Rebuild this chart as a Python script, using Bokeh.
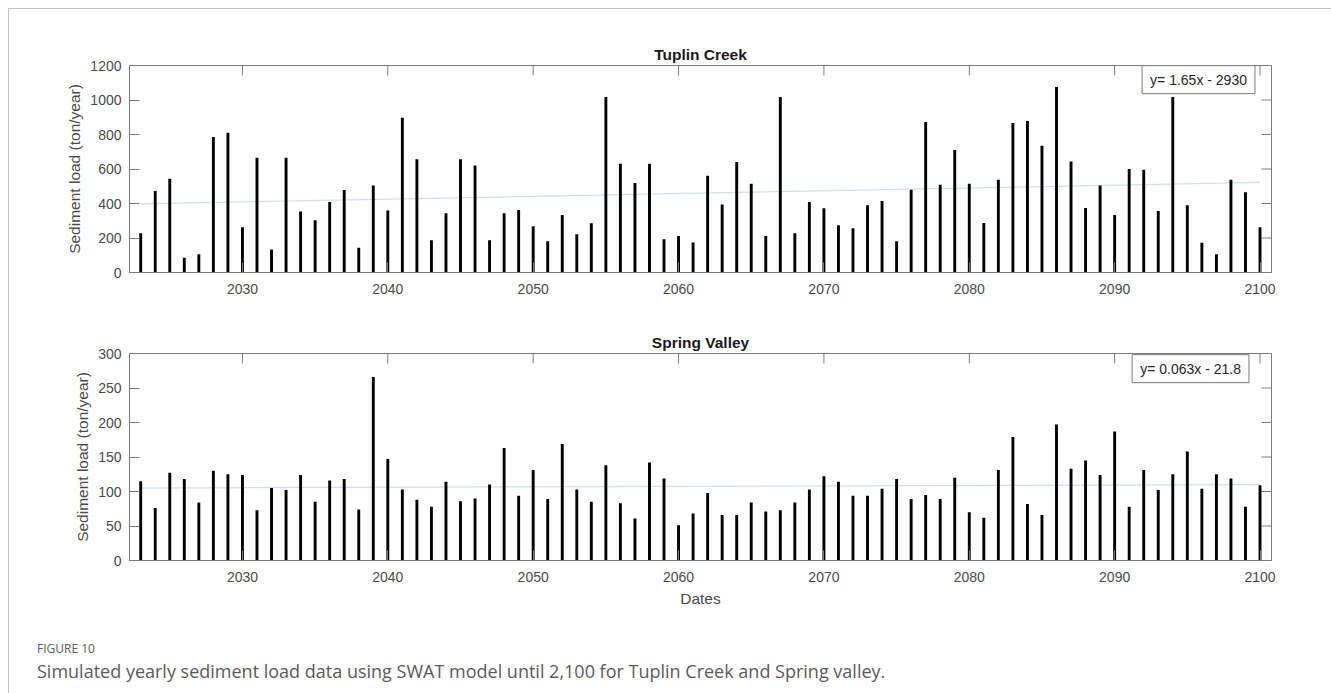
from bokeh.plotting import figure
from bokeh.models import Range1d, FixedTicker, Label, Div, ColumnDataSource
from bokeh.layouts import column
from bokeh.embed import file_html
from bokeh.resources import INLINE

# ---------------- data ----------------
years = list(range(2023, 2101))

tuplin_load = [
    228, 473, 544, 85, 106, 785, 810, 262, 665, 133,
    665, 353, 303, 409, 478, 143, 505, 359, 897, 656,
    187, 343, 656, 621, 187, 343, 363, 268, 181, 334,
    222, 285, 1017, 631, 519, 631, 193, 212, 174, 561,
    394, 640, 515, 212, 1017, 228, 409, 372, 274, 257,
    390, 415, 181, 480, 872, 509, 710, 515, 287, 538,
    866, 878, 735, 1076, 644, 374, 505, 334, 600, 596,
    357, 1017, 390, 172, 106, 538, 465, 262,
]

spring_load = [
    115, 76, 127, 118, 84, 130, 125, 124, 73, 105,
    102, 124, 85, 116, 118, 74, 266, 147, 103, 88,
    78, 114, 86, 90, 110, 163, 94, 131, 89, 169,
    103, 85, 138, 83, 61, 142, 119, 51, 68, 98,
    66, 66, 84, 71, 73, 84, 103, 122, 114, 94,
    94, 104, 118, 89, 95, 89, 120, 70, 62, 131,
    179, 82, 66, 197, 133, 145, 124, 187, 78, 131,
    102, 125, 158, 104, 125, 119, 78, 109,
]

trend_years = [2023, 2100]
tuplin_trend = [398, 522]
spring_trend = [105, 110]

x_ticks = [2030, 2040, 2050, 2060, 2070, 2080, 2090, 2100]
tuplin_yticks = [0, 200, 400, 600, 800, 1000, 1200]
spring_yticks = [0, 50, 100, 150, 200, 250, 300]

tuplin_title = "Tuplin Creek"
spring_title = "Spring Valley"
tuplin_eq = "y= 1.65x - 2930"
spring_eq = "y= 0.063x - 21.8"
y_label = "Sediment load (ton/year)"
x_label = "Dates"
fig_num = "FIGURE 10"
caption = ("Simulated yearly sediment load data using SWAT model until 2,100 "
           "for Tuplin Creek and Spring valley.")

# ---------------- style ----------------
FONT = "Liberation Sans"
AX_COL = "#7a7a7a"
LBL_COL = "#4a4a4a"
TREND_COL = "#cfe0ea"
FRAME_W, FRAME_H = 1142, 207
X0, X1 = 2022.23, 2100.79
TICK_PX = 10


def make_panel(title, loads, trend, yticks, ymax, eq, eq_pos, show_xlabel,
               min_top, min_bottom):
    p = figure(
        title=title,
        frame_width=FRAME_W, frame_height=FRAME_H,
        x_range=Range1d(X0, X1), y_range=Range1d(0, ymax),
        min_border_left=120, min_border_right=60,
        min_border_top=min_top, min_border_bottom=min_bottom,
        toolbar_location=None, output_backend="svg",
        background_fill_color="white", border_fill_color="white",
    )
    p.outline_line_color = AX_COL
    p.outline_line_width = 1
    p.xgrid.visible = False
    p.ygrid.visible = False

    p.title.align = "center"
    p.title.text_font = FONT
    p.title.text_font_size = "15.5px"
    p.title.text_font_style = "bold"
    p.title.text_color = "#1a1a1a"
    p.title.standoff = 5

    p.xaxis.ticker = FixedTicker(ticks=x_ticks)
    p.yaxis.ticker = FixedTicker(ticks=yticks)

    for ax in list(p.xaxis) + list(p.yaxis):
        ax.axis_line_color = AX_COL
        ax.major_tick_line_color = AX_COL
        ax.major_tick_in = TICK_PX
        ax.major_tick_out = 0
        ax.minor_tick_line_color = None
        ax.major_label_text_font = FONT
        ax.major_label_text_font_size = "14px"
        ax.major_label_text_color = LBL_COL
    p.xaxis.major_label_standoff = 11
    p.yaxis.major_label_standoff = 8

    p.yaxis.axis_label = y_label
    p.yaxis.axis_label_text_font = FONT
    p.yaxis.axis_label_text_font_size = "15.5px"
    p.yaxis.axis_label_text_font_style = "normal"
    p.yaxis.axis_label_text_color = LBL_COL
    p.yaxis.axis_label_standoff = 4

    if show_xlabel:
        p.xaxis.axis_label = x_label
        p.xaxis.axis_label_text_font = FONT
        p.xaxis.axis_label_text_font_size = "15.5px"
        p.xaxis.axis_label_text_font_style = "normal"
        p.xaxis.axis_label_text_color = LBL_COL
        p.xaxis.axis_label_standoff = 5

    # mirrored inward ticks on top and right edges of the box
    dy = ymax * TICK_PX / FRAME_H
    dx = (X1 - X0) * TICK_PX / FRAME_W
    n = len(x_ticks)
    p.segment(x0=x_ticks, y0=[ymax] * n, x1=x_ticks, y1=[ymax - dy] * n,
              line_color=AX_COL, line_width=1)
    m = len(yticks)
    p.segment(x0=[X1] * m, y0=yticks, x1=[X1 - dx] * m, y1=yticks,
              line_color=AX_COL, line_width=1)

    p.line(trend_years, trend, line_color=TREND_COL, line_width=1.2)

    src = ColumnDataSource(dict(x=years, top=loads))
    p.vbar(x="x", top="top", bottom=0, width=0.2, source=src,
           fill_color="black", line_color=None)

    lab = Label(x=eq_pos[0], y=eq_pos[1], text=eq,
                text_font=FONT, text_font_size="14px", text_color="#262626",
                text_align="center", text_baseline="middle",
                background_fill_color="white",
                border_line_color=AX_COL, border_line_width=1,
                padding=dict(left=8, right=8, top=6, bottom=6))
    p.add_layout(lab)
    return p


p1 = make_panel(tuplin_title, tuplin_load, tuplin_trend, tuplin_yticks, 1200,
                tuplin_eq, (2095.77, 1118), False, 56, 28)
p2 = make_panel(spring_title, spring_load, spring_trend, spring_yticks, 300,
                spring_eq, (2095.22, 278), True, 53, 50)

cap = Div(
    text=(
        '<div style="font-family:\'Open Sans\';color:#5a5a5a;padding-left:23px;">'
        f'<div style="font-size:12px;line-height:18px;margin-top:25px;">{fig_num}</div>'
        f'<div style="font-size:18px;line-height:22px;margin-top:2px;white-space:nowrap;">{caption}</div>'
        '</div>'
    ),
    width=1200, height=74,
)

layout = column(
    p1, p2, cap,
    spacing=0,
    styles={"margin-left": "8px", "margin-top": "8px",
            "border-top": "1px solid #c4c4c4",
            "border-left": "1px solid #c4c4c4"},
)

open("out.html", "w").write(file_html(layout, INLINE))
